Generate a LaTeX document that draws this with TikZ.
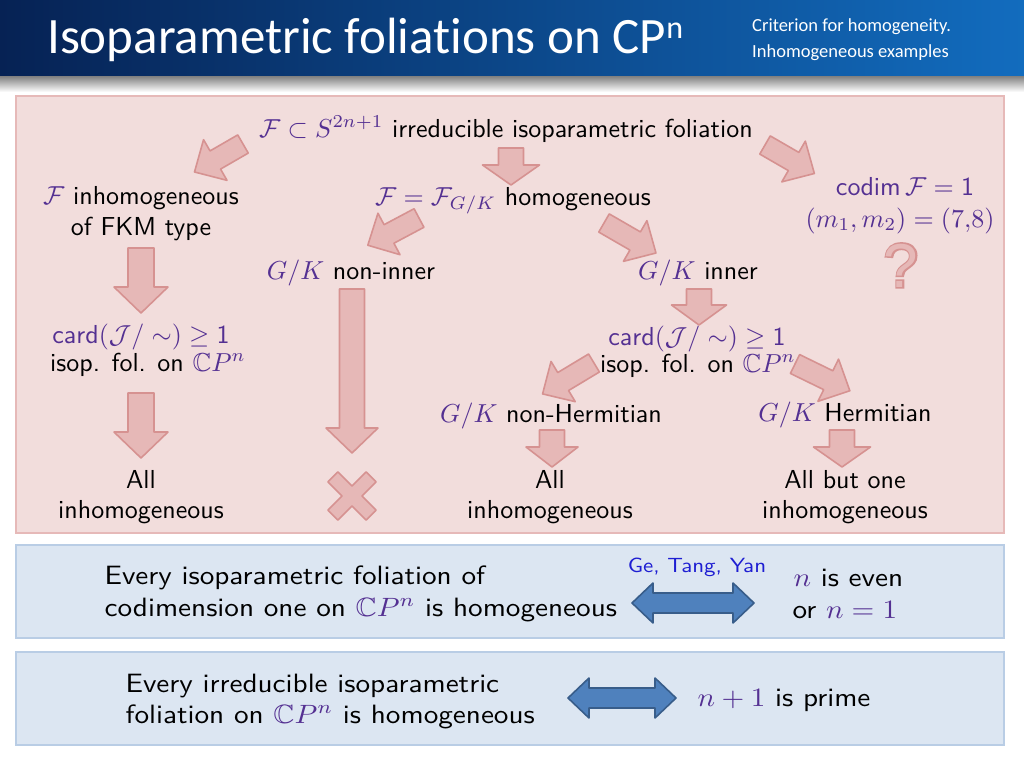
\documentclass[tikz,border=0pt]{standalone}
\usepackage{amssymb}
\usepackage{fontspec}
\newfontfamily\carlito[Ligatures=NoCommon]{Carlito}
\newfontfamily\qfont{Liberation Sans}
\newfontfamily\qfontbold[FakeBold=5]{Liberation Sans}
\definecolor{mathc}{RGB}{84,48,146}
\definecolor{pinkfill}{RGB}{242,221,220}
\definecolor{pinkline}{RGB}{230,185,184}
\definecolor{arrfill}{RGB}{230,184,183}
\definecolor{arrline}{RGB}{214,146,145}
\definecolor{bluefill}{RGB}{220,230,242}
\definecolor{blueline}{RGB}{185,205,229}
\definecolor{barrfill}{RGB}{79,129,189}
\definecolor{barrline}{RGB}{56,93,138}
\definecolor{hdleft}{RGB}{6,34,84}
\definecolor{hdright}{RGB}{18,108,190}
\definecolor{gtycol}{RGB}{30,30,210}
\newcommand\mth[1]{\textcolor{mathc}{$#1$}}
\newcommand\blockarrow[8]{% style, x, y, angle, L, s, H, h
  \begin{scope}[shift={(#2,#3)},rotate=#4]
    \draw[#1] (0,-#6/2) -- ({#5-#8},-#6/2) -- ({#5-#8},-#7/2) -- (#5,0)
      -- ({#5-#8},#7/2) -- ({#5-#8},#6/2) -- (0,#6/2) -- cycle;
  \end{scope}}
\newcommand\dblarrow[7]{% style, x, y, L, s, H, h
  \begin{scope}[shift={(#2,#3)}]
    \draw[#1] (-#4/2,0) -- ({-#4/2+#7},#6/2) -- ({-#4/2+#7},#5/2) -- ({#4/2-#7},#5/2)
      -- ({#4/2-#7},#6/2) -- (#4/2,0) -- ({#4/2-#7},-#6/2) -- ({#4/2-#7},-#5/2)
      -- ({-#4/2+#7},-#5/2) -- ({-#4/2+#7},-#6/2) -- cycle;
  \end{scope}}
\tikzset{
  txt/.style={font=\sffamily\fontsize{10}{12}\selectfont, inner sep=0pt, anchor=base, scale=2.6},
  btxt/.style={font=\sffamily\fontsize{10}{12}\selectfont, inner sep=0pt, anchor=base west, xscale=2.92, yscale=2.65},
  parr/.style={fill=arrfill, draw=arrline, line width=1.6pt, line join=round},
  barr/.style={fill=barrfill, draw=barrline, line width=1.6pt, line join=round},
  pinkbox/.style={fill=pinkfill, draw=pinkline, line width=2.5pt},
  bluebox/.style={fill=bluefill, draw=blueline, line width=2.5pt},
}
\begin{document}
\begin{tikzpicture}[x=1pt,y=-1pt]
\useasboundingbox (0,0) rectangle (1024,768);
\fill[white] (0,0) rectangle (1024,768);
% header
\shade[left color=hdleft, right color=hdright] (0,0) rectangle (1024,76);
\shade[top color=black!50, bottom color=white] (0,76) rectangle (1024,92);
\node[anchor=base west, inner sep=0pt, text=white, font=\carlito\fontsize{51}{53}\selectfont] (title) at (47,54) {Isoparametric foliations on CP\raisebox{15pt}{\fontsize{32}{32}\selectfont n}};
\node[anchor=base west, inner sep=0pt, text=white, font=\carlito\fontsize{18.5}{20}\selectfont] (sub1) at (752,32) {Criterion for homogeneity.};
\node[anchor=base west, inner sep=0pt, text=white, font=\carlito\fontsize{18.5}{20}\selectfont] (sub2) at (752,57) {Inhomogeneous examples};
% boxes
\draw[pinkbox] (16,96) rectangle (1004,533);
\draw[bluebox] (16,545) rectangle (1004,638);
\draw[bluebox] (16,652) rectangle (1004,745);
% pink texts
\node[txt] (top) at (506,137) {\mth{\mathcal{F}\subset S^{2n+1}} irreducible isoparametric foliation};
\node[txt] (inhA) at (141,204) {\mth{\mathcal{F}} inhomogeneous};
\node[txt] (inhB) at (141,235) {of FKM type};
\node[txt] (hom) at (513,205) {\mth{\mathcal{F}=\mathcal{F}_{G/K}} homogeneous};
\node[txt] (codA) at (905,195) {\mth{\mathsf{codim}\,\mathcal{F}=\mathsf{1}}};
\node[txt] (codB) at (900,227) {\mth{(m_1,m_2)=(7{,}8)}};
\node[anchor=base, inner sep=0pt, text=arrline, font=\qfontbold\fontsize{62}{64}\selectfont] (qA) at (901,287) {?};
\node[anchor=base, inner sep=0pt, text=arrfill, font=\qfont\fontsize{62}{64}\selectfont] (qB) at (901,287) {?};
\node[txt] (noninner) at (351,279) {\mth{G/K} non-inner};
\node[txt] (inner) at (698,279) {\mth{G/K} inner};
\node[txt] (cardL) at (141,343) {\mth{\mathsf{card}(\mathcal{J}/\sim)\geq\mathsf{1}}};
\node[txt] (isopL) at (148,371) {isop. fol. on \mth{\mathbb{C}P^n}};
\node[txt] (cardR) at (697,345) {\mth{\mathsf{card}(\mathcal{J}/\sim)\geq\mathsf{1}}};
\node[txt] (isopR) at (698,372) {isop. fol. on \mth{\mathbb{C}P^n}};
\node[txt] (nonherm) at (551,422) {\mth{G/K} non-Hermitian};
\node[txt] (herm) at (845,421) {\mth{G/K} Hermitian};
\node[txt] (allLa) at (141,488) {All};
\node[txt] (allLb) at (141,518) {inhomogeneous};
\node[txt] (allMa) at (550,488) {All};
\node[txt] (allMb) at (550,518) {inhomogeneous};
\node[txt] (allRa) at (845,488) {All but one};
\node[txt] (allRb) at (845,518) {inhomogeneous};
% pink arrows
\blockarrow{parr}{243}{144}{210}{56}{21}{47}{24}
\blockarrow{parr}{511}{148}{270}{37}{25}{57}{20}
\blockarrow{parr}{765}{145}{330}{57}{21}{47}{24}
\blockarrow{parr}{419}{218}{208}{58}{21}{47}{24}
\blockarrow{parr}{604}{223}{330}{60}{21}{47}{24}
\blockarrow{parr}{141}{248}{270}{65}{26}{54}{26}
\blockarrow{parr}{352}{289}{270}{164}{25}{52}{25}
\blockarrow{parr}{141}{393}{270}{65}{26}{54}{26}
\blockarrow{parr}{699}{289}{270}{36}{25}{55}{20}
\blockarrow{parr}{594}{363}{211}{60}{21}{47}{24}
\blockarrow{parr}{795}{364}{334}{61}{21}{47}{24}
\blockarrow{parr}{552}{430}{270}{37}{25}{52}{20}
\blockarrow{parr}{842}{430}{270}{37}{25}{57}{20}
% cross
\begin{scope}[shift={(352,496)},rotate=45]
  \draw[parr] (-7,-27) -- (7,-27) -- (7,-7) -- (27,-7) -- (27,7) -- (7,7) -- (7,27)
    -- (-7,27) -- (-7,7) -- (-27,7) -- (-27,-7) -- (-7,-7) -- cycle;
\end{scope}
% bottom box 1
\node[btxt] (e1a) at (104,584) {Every isoparametric foliation of};
\node[btxt] (e1b) at (104,616) {codimension one on \mth{\mathbb{C}P^n} is homogeneous};
\node[anchor=base, inner sep=0pt, text=gtycol, font=\sffamily\fontsize{10}{12}\selectfont, xscale=2.3, yscale=2.05] (gty) at (697,572) {Ge, Tang, Yan};
\dblarrow{barr}{693}{603}{122}{20}{40}{21}
\node[btxt] (r1a) at (793,586) {\mth{n} is even};
\node[btxt] (r1b) at (792,618) {or \mth{n=1}};
% bottom box 2
\node[btxt] (e2a) at (125,692) {Every irreducible isoparametric};
\node[btxt] (e2b) at (125,723) {foliation on \mth{\mathbb{C}P^n} is homogeneous};
\dblarrow{barr}{622}{698}{108}{20}{40}{21}
\node[btxt] (r2) at (697,706) {\mth{n+1} is prime};
\end{tikzpicture}
\end{document}
